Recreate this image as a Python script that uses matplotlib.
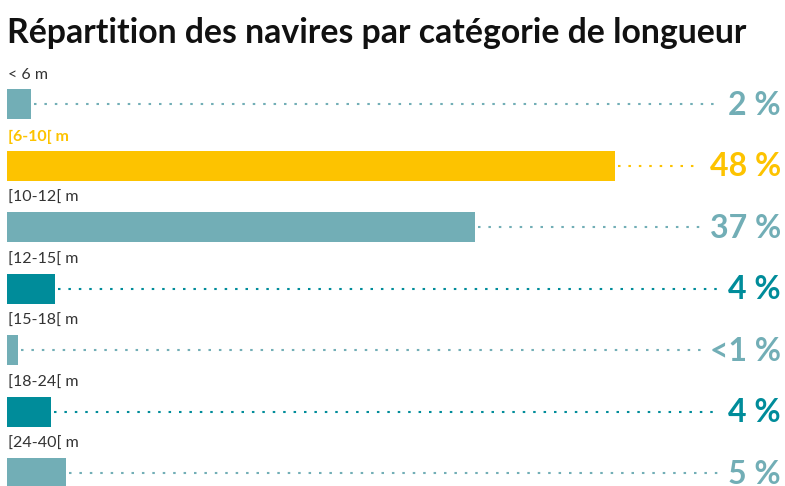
import matplotlib
matplotlib.use("Agg")
import matplotlib.pyplot as plt

# data
categories = ["< 6 m", "[6-10[ m", "[10-12[ m", "[12-15[ m", "[15-18[ m", "[18-24[ m", "[24-40[ m"]
shares = [1.9, 48.1, 37.0, 3.8, 0.9, 3.5, 4.7]
share_labels = ["2 %", "48 %", "37 %", "4 %", "<1 %", "4 %", "5 %"]

LIGHT = "#72aeb6"
YELLOW = "#fdc300"
DARK = "#008c9a"
colors = [LIGHT, YELLOW, LIGHT, DARK, LIGHT, DARK, LIGHT]
highlight = 1

plt.rcParams["font.family"] = ["Lato", "DejaVu Sans"]

fig = plt.figure(figsize=(7.85, 4.86), dpi=100)
W, H = 785, 486
left_px, top_px = 7, 58
ax = fig.add_axes([left_px / W, 0, (W - left_px) / W, (H - top_px) / H])

px_per_unit = 12.65
row_px = 61.5
ax.set_xlim(0, (W - left_px) / px_per_unit)
y_top = -46 / row_px
ax.set_ylim(y_top + (H - top_px) / row_px, y_top)
ax.axis("off")

ypos = list(range(len(categories)))
ax.barh(ypos, shares, height=30 / row_px, color=colors, left=0)

texts = []
for i, (cat, lab, c) in enumerate(zip(categories, share_labels, colors)):
    bold = i == highlight
    ax.text(0.05, i - 0.47, cat, fontsize=11.5,
            fontweight="bold" if bold else "normal",
            color=YELLOW if bold else "#333333", va="center", ha="left")
    t = ax.text(0.995, i + 0.02, lab, transform=ax.get_yaxis_transform(),
                fontsize=23, fontweight="bold", color=c, va="center", ha="right")
    texts.append(t)

fig.text(left_px / W, 1 - 43 / H, "Répartition des navires par catégorie de longueur",
         fontsize=24.3, fontweight="bold", color="#111111", va="baseline", ha="left")

# dotted leaders from the bar end to the percentage label
fig.canvas.draw()
inv = ax.transData.inverted()
for i, (t, v, c) in enumerate(zip(texts, shares, colors)):
    bb = t.get_window_extent()
    x_end = inv.transform((bb.x0 - 9, 0))[0]
    ax.plot([v + 3 / px_per_unit, x_end], [i, i], color=c, lw=1.5,
            dashes=(1.2, 3.8), solid_capstyle="butt")

fig.savefig("out.png", dpi=100)
